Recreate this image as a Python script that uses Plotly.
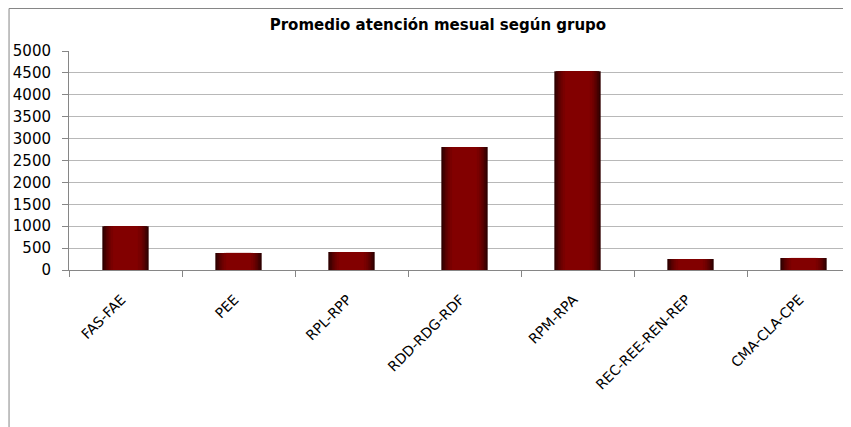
import plotly.graph_objects as go

grupos = ["FAS-FAE", "PEE", "RPL-RPP", "RDD-RDG-RDF", "RPM-RPA", "REC-REE-REN-REP", "CMA-CLA-CPE"]
promedio = [1000, 390, 410, 2810, 4540, 250, 275]

y_ticks = list(range(0, 5001, 500))

# fake horizontal gradient: stacked overlay bars, dark edges -> bright centre
capas_ancho = [0.41, 0.38, 0.35, 0.32, 0.29, 0.26, 0.22]
capas_color = ["#300000", "#420000", "#540000", "#630000", "#6f0000", "#790000", "#820000"]

fig = go.Figure()
for w, c in zip(capas_ancho, capas_color):
    fig.add_trace(go.Bar(x=grupos, y=promedio, width=w, marker=dict(color=c, line=dict(width=0)),
                         showlegend=False, hovertemplate="%{x}: %{y}<extra></extra>"))

# page body has an 8px margin, so everything below is offset by it
fig.update_layout(
    width=851, height=427,
    barmode="overlay",
    plot_bgcolor="white", paper_bgcolor="white",
    margin=dict(l=61, r=0, t=43, b=165),
    font=dict(family="DejaVu Sans", color="black"),
    title=dict(text="<b>Promedio atención mesual según grupo</b>", x=0.467, xref="paper",
               xanchor="center", y=1 - 17 / 427, yanchor="middle",
               font=dict(family="DejaVu Sans", size=15, color="black")),
    shapes=[dict(type="rect", xref="paper", yref="paper", x0=-0.0759, x1=1.2, y0=-1.2, y1=1.194,
                 line=dict(color="#868686", width=1), fillcolor="rgba(0,0,0,0)", layer="below")],
)
fig.update_xaxes(
    type="category", range=[-0.5, -0.5 + 790 / 113],
    showline=True, linecolor="#868686", linewidth=1,
    ticks="outside", tickson="boundaries", ticklen=6, tickcolor="#868686",
    tickangle=-45, ticklabelstandoff=15, ticklabelshift=-4,
    tickfont=dict(family="DejaVu Sans", size=14, color="black"),
    showgrid=False,
)
fig.update_yaxes(
    range=[0, 5000], tickvals=y_ticks,
    showline=True, linecolor="#868686", linewidth=1,
    ticks="outside", ticklen=6, tickcolor="#868686", ticklabelstandoff=8,
    gridcolor="#b8b8b8", gridwidth=1,
    tickfont=dict(family="DejaVu Sans", size=15, color="black"),
    zeroline=False,
)

fig.write_html("out.html")
